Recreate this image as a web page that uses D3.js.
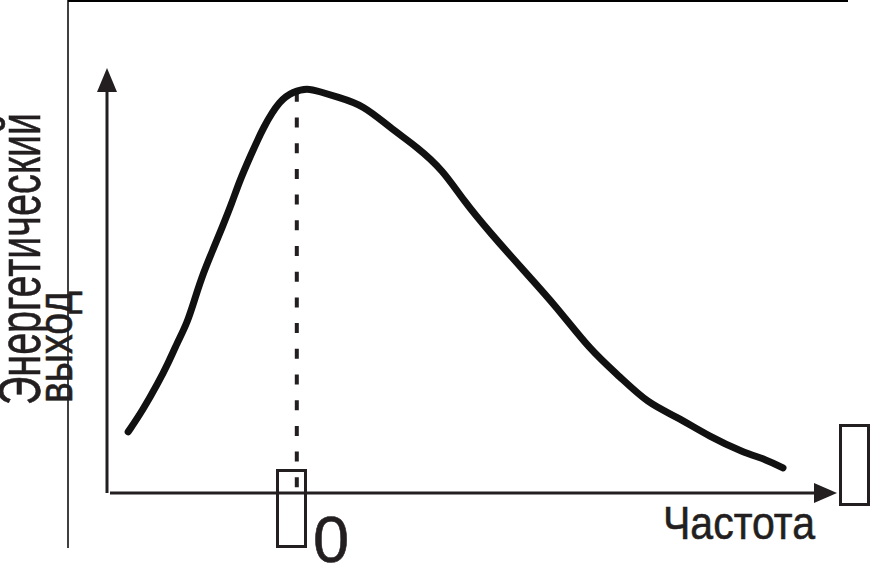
<!DOCTYPE html>
<html>
<head>
<meta charset="utf-8">
<script src="https://cdn.jsdelivr.net/npm/d3@7"></script>
<style>
	body { margin: 0; background: #fff; }
	text { font-family: "Liberation Sans", Arial, sans-serif; fill: #231f20; stroke: #231f20; stroke-width: 0.6; }
</style>
</head>
<body>
<div id="chart"></div>
<script>
// frequency (arbitrary units) and energy output
var freq = [0.29, 0.49, 0.70, 0.84, 0.96, 1.10, 1.21, 1.32, 1.45, 1.58, 1.71, 1.82, 1.96, 2.14, 2.37, 2.55, 2.74, 2.92, 3.15, 3.51, 3.88, 4.25, 4.60, 4.88, 5.25, 5.70, 6.16, 6.62, 7.03, 7.40, 7.81, 8.26, 8.71, 9.04, 9.26];
var energy = [1.44, 1.95, 2.59, 3.06, 3.53, 4.00, 4.61, 5.18, 5.72, 6.26, 6.82, 7.36, 7.91, 8.61, 9.25, 9.44, 9.53, 9.44, 9.32, 9.13, 8.59, 8.14, 7.60, 6.89, 6.12, 5.25, 4.38, 3.36, 2.73, 2.12, 1.79, 1.32, 0.96, 0.78, 0.59];
var peakFreq = 2.60;
var peakEnergy = 9.44;
var xLabel = "Частота";
var yLabel = ["Энергетический", "выход"];
var peakLabel = "0";

var W = 882, H = 567;
var svg = d3.select("#chart").append("svg")
	.attr("width", W)
	.attr("height", H);

var x = d3.scaleLinear().domain([0, 10]).range([107, 837]);
var y = d3.scaleLinear().domain([0, 10]).range([493, 68]);
var ink = "#231f20";

// frame lines (top and left)
svg.append("line").attr("x1", 68).attr("y1", 1).attr("x2", 848).attr("y2", 1)
	.attr("stroke", "#000").attr("stroke-width", 2);
svg.append("line").attr("x1", 68).attr("y1", 0).attr("x2", 68).attr("y2", 548)
	.attr("stroke", "#000").attr("stroke-width", 1.5);

// axes with arrows
svg.append("line").attr("x1", x(0)).attr("y1", y(0)).attr("x2", x(0)).attr("y2", y(10) + 20)
	.attr("stroke", ink).attr("stroke-width", 3);
svg.append("path")
	.attr("d", d3.line()([[x(0), y(10)], [x(0) - 10, y(10) + 24], [x(0) + 10, y(10) + 24]]) + "Z")
	.attr("fill", ink);
svg.append("line").attr("x1", x(0) + 3).attr("y1", y(0)).attr("x2", x(10) - 20).attr("y2", y(0))
	.attr("stroke", ink).attr("stroke-width", 3);
svg.append("path")
	.attr("d", d3.line()([[x(10), y(0)], [x(10) - 23, y(0) - 10], [x(10) - 23, y(0) + 10]]) + "Z")
	.attr("fill", ink);

// dashed line under the peak
svg.append("line")
	.attr("x1", x(peakFreq)).attr("y1", y(peakEnergy))
	.attr("x2", x(peakFreq)).attr("y2", y(0) - 3)
	.attr("stroke", ink).attr("stroke-width", 4)
	.attr("stroke-dasharray", "10,15.7");

// the curve
var pts = freq.map(function(f, i){ return [f, energy[i]]; });
svg.append("path")
	.datum(pts)
	.attr("d", d3.line()
		.x(function(d){ return x(d[0]); })
		.y(function(d){ return y(d[1]); })
		.curve(d3.curveBasis))
	.attr("fill", "none")
	.attr("stroke", "#111")
	.attr("stroke-width", 7)
	.attr("stroke-linecap", "round")
	.attr("stroke-linejoin", "round");

// missing-glyph boxes (nu symbols)
svg.append("rect").attr("x", 277.5).attr("y", 470.5).attr("width", 28).attr("height", 76)
	.attr("fill", "none").attr("stroke", ink).attr("stroke-width", 3);
svg.append("rect").attr("x", 840.5).attr("y", 425.5).attr("width", 28).attr("height", 79)
	.attr("fill", "none").attr("stroke", ink).attr("stroke-width", 3);

// labels
svg.append("text").attr("x", 313).attr("y", 562)
	.attr("font-size", 65)
	.text(peakLabel);
svg.append("text").attr("x", 663).attr("y", 539)
	.attr("font-size", 46)
	.attr("textLength", 152).attr("lengthAdjust", "spacingAndGlyphs")
	.text(xLabel);
svg.append("text").attr("transform", "translate(40,405) rotate(-90)")
	.attr("font-size", 60)
	.attr("textLength", 292).attr("lengthAdjust", "spacingAndGlyphs")
	.text(yLabel[0]);
svg.append("text").attr("transform", "translate(72,403) rotate(-90)")
	.attr("font-size", 48)
	.attr("textLength", 112).attr("lengthAdjust", "spacingAndGlyphs")
	.text(yLabel[1]);
</script>
</body>
</html>
